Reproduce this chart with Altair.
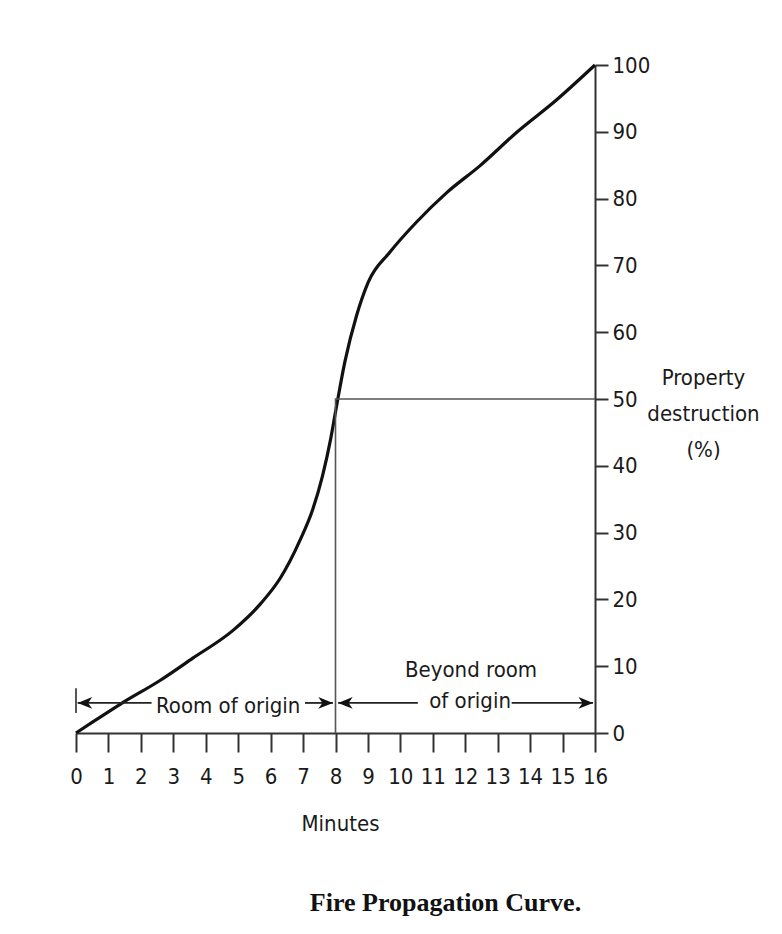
import altair as alt
import pandas as pd

# curve
minutes = [0, 0.53, 1.36, 2.6, 3.6, 4.85, 5.7, 6.3, 6.9, 7.3, 7.6, 7.85, 8.02, 8.29,
           8.65, 9.01, 9.68, 10.5, 11.43, 12.45, 13.58, 14.82, 16]
destruction = [0, 1.7, 4.3, 7.9, 11.2, 15.4, 19.4, 23.2, 28.8, 33.5, 38.5, 44.0, 48.6,
               55.6, 62.5, 67.5, 72.0, 76.5, 80.9, 84.9, 89.9, 94.8, 100]

x_ticks = list(range(0, 17))
y_ticks = list(range(0, 101, 10))

# reference lines (8 minutes -> 50 %)
ref_x = [8, 8, 16]
ref_y = [0, 50, 50]

# arrow annotation
arrow_level = 4.5
seg_start = [0.05, 7.06, 8.08, 13.43]
seg_end = [2.33, 7.92, 10.54, 15.94]
tips_right = [7.92, 15.94]
tips_left = [0.05, 8.08]
bar_x = [0]
bar_y1 = [3.0]
bar_y2 = [6.7]

label_text = ["Room of origin", "Beyond room", "of origin"]
label_x = [4.69, 12.18, 12.15]
label_y = [3.0, 8.4, 3.74]

FONT = "DejaVu Sans Condensed, Liberation Sans, sans-serif"
FS = 22

curve_df = pd.DataFrame({"m": minutes, "d": destruction})
ref_df = pd.DataFrame({"m": ref_x, "d": ref_y, "o": [0, 1, 2]})
seg_df = pd.DataFrame({"m": seg_start, "m2": seg_end, "d": [arrow_level] * len(seg_start)})
tr_df = pd.DataFrame({"m": tips_right, "d": [arrow_level] * len(tips_right)})
tl_df = pd.DataFrame({"m": tips_left, "d": [arrow_level] * len(tips_left)})
bar_df = pd.DataFrame({"m": bar_x, "d": bar_y1, "d2": bar_y2})
lab_df = pd.DataFrame({"t": label_text, "m": label_x, "d": label_y})

xscale = alt.Scale(domain=[0, 16], nice=False, zero=False)
yscale = alt.Scale(domain=[0, 100], nice=False)

x_axis = alt.X(
    "m:Q", scale=xscale,
    axis=alt.Axis(
        values=x_ticks, title="Minutes", orient="bottom", grid=False,
        labelFont=FONT, labelFontSize=FS, labelColor="#1a1a1a", labelPadding=14,
        labelFlush=False, labelOverlap=False,
        tickSize=19, tickWidth=2, tickColor="#333333",
        domainWidth=2, domainColor="#333333",
        titleFont=FONT, titleFontSize=FS, titleFontWeight="normal",
        titleColor="#1a1a1a", titlePadding=26, titleX=264,
    ),
)
y_axis = alt.Y(
    "d:Q", scale=yscale,
    axis=alt.Axis(
        values=y_ticks, orient="right", grid=False,
        title=["Property", "destruction", "(%)"],
        labelFont=FONT, labelFontSize=FS, labelColor="#1a1a1a", labelPadding=4,
        labelFlush=False, labelOverlap=False,
        tickSize=13, tickWidth=2, tickColor="#333333",
        domainWidth=2, domainColor="#333333",
        titleFont=FONT, titleFontSize=FS, titleFontWeight="normal",
        titleColor="#1a1a1a", titleAngle=0, titleAlign="center",
        titleBaseline="alphabetic", titleX=108, titleY=319, titleLineHeight=36,
    ),
)

curve = alt.Chart(curve_df).mark_line(
    color="#111111", strokeWidth=3.2, interpolate="monotone"
).encode(x=x_axis, y=y_axis)

ref = alt.Chart(ref_df).mark_line(color="#555555", strokeWidth=1.6).encode(
    x=x_axis, y=y_axis, order="o:Q"
)

segs = alt.Chart(seg_df).mark_rule(color="#222222", strokeWidth=1.8).encode(
    x=x_axis, x2="m2:Q", y=y_axis
)

bar = alt.Chart(bar_df).mark_rule(color="#444444", strokeWidth=1.8).encode(
    x=x_axis, y=y_axis, y2="d2:Q"
)

right_head = alt.Chart(tr_df).mark_point(
    shape="M0,0 L-1,-0.4 L-0.72,0 L-1,0.4 Z", size=850, filled=True,
    color="#111111", opacity=1, strokeWidth=0
).encode(x=x_axis, y=y_axis)

left_head = alt.Chart(tl_df).mark_point(
    shape="M0,0 L1,-0.4 L0.72,0 L1,0.4 Z", size=850, filled=True,
    color="#111111", opacity=1, strokeWidth=0
).encode(x=x_axis, y=y_axis)

labels = alt.Chart(lab_df).mark_text(
    font=FONT, fontSize=FS, color="#1a1a1a", align="center", baseline="alphabetic"
).encode(x=x_axis, y=y_axis, text="t:N")

chart = alt.layer(curve, ref, bar, segs, right_head, left_head, labels).properties(
    width=519, height=668,
    padding={"left": 68, "top": 57, "right": 179, "bottom": 193},
    autosize=alt.AutoSizeParams(type="none"),
    background="white",
    title=alt.TitleParams(
        "Fire Propagation Curve.", orient="bottom", anchor="middle",
        font="Liberation Serif", fontSize=26, fontWeight="bold", color="#111111",
        dx=110, offset=56,
    ),
).configure_view(stroke=None)

chart.save("out.html", embed_options={"renderer": "svg", "actions": False})
